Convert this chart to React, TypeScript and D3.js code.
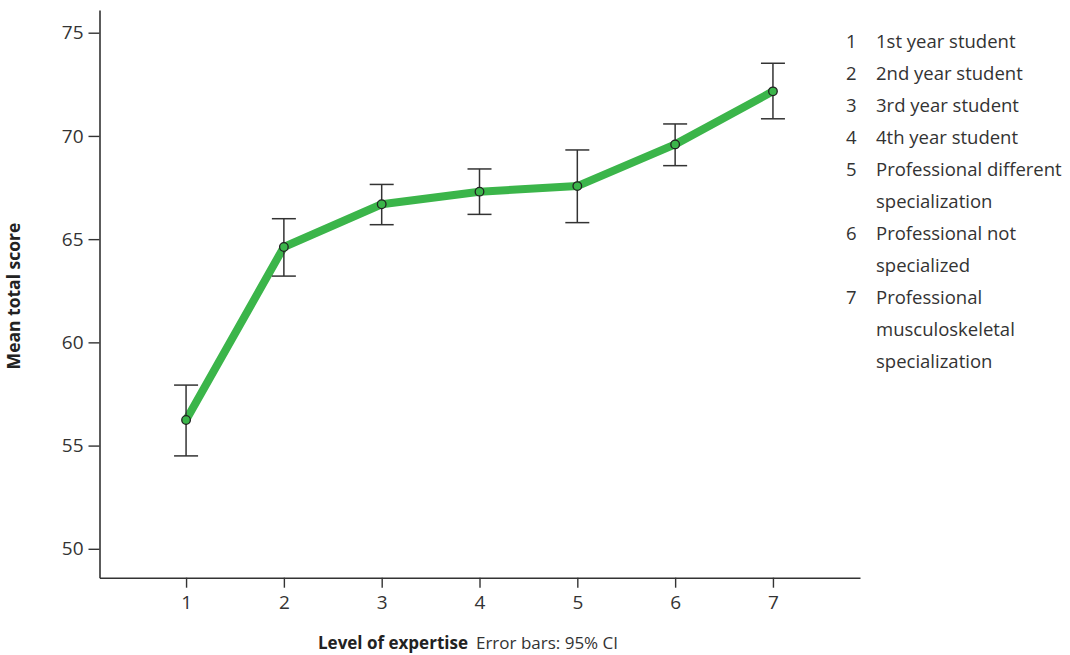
import React, { useRef, useEffect } from "react";
import * as d3 from "d3";

// level of expertise (x), mean total score with 95% CI
const levels = [1, 2, 3, 4, 5, 6, 7];
const means = [56.24, 64.62, 66.69, 67.3, 67.57, 69.59, 72.16];
const ciLow = [54.5, 63.21, 65.7, 66.2, 65.8, 68.56, 70.83];
const ciHigh = [57.93, 65.99, 67.65, 68.4, 69.32, 70.58, 73.52];

const yTicks = [50, 55, 60, 65, 70, 75];

const legendItems = [
  { key: "1", lines: ["1st year student"] },
  { key: "2", lines: ["2nd year student"] },
  { key: "3", lines: ["3rd year student"] },
  { key: "4", lines: ["4th year student"] },
  { key: "5", lines: ["Professional different", "specialization"] },
  { key: "6", lines: ["Professional not", "specialized"] },
  { key: "7", lines: ["Professional", "musculoskeletal", "specialization"] },
];

const W = 1070;
const H = 655;
const FONT = "'Open Sans', 'Noto Sans', sans-serif";
const TEXT = "#333";
const GREEN = "#3bb54a";

const App = () => {
  const svgRef = useRef<SVGSVGElement>(null);

  useEffect(() => {
    const svg = d3.select(svgRef.current);
    svg.selectAll("*").remove();

    const left = 99.5;
    const right = 860;
    const top = 10;
    const bottom = 577.7;

    const x = d3.scaleLinear().domain([0.115, 7.89]).range([left, right]);
    const y = d3.scaleLinear().domain([48.6, 76.1]).range([bottom, top]);

    const data = levels.map((l, i) => ({
      l,
      m: means[i],
      lo: ciLow[i],
      hi: ciHigh[i],
    }));

    // axes
    const yAxis = d3
      .axisLeft(y)
      .tickValues(yTicks)
      .tickSize(11)
      .tickPadding(5)
      .tickSizeOuter(0);
    const xAxis = d3
      .axisBottom(x)
      .tickValues(levels)
      .tickFormat(d3.format("d"))
      .tickSize(10)
      .tickPadding(8)
      .tickSizeOuter(0);

    const gy = svg.append("g").attr("transform", `translate(${left},0)`).call(yAxis);
    const gx = svg.append("g").attr("transform", `translate(0,${bottom})`).call(xAxis);

    [gx, gy].forEach((g) => {
      g.attr("font-size", 19).attr("font-family", FONT);
      g.select(".domain").attr("stroke", TEXT).attr("stroke-width", 1.6);
      g.selectAll(".tick line").attr("stroke", TEXT).attr("stroke-width", 1.4);
      g.selectAll(".tick text").attr("fill", TEXT);
    });

    // line
    const line = d3
      .line<any>()
      .x((d) => x(d.l))
      .y((d) => y(d.m));

    svg
      .append("path")
      .datum(data)
      .attr("d", line)
      .attr("fill", "none")
      .attr("stroke", GREEN)
      .attr("stroke-width", 8)
      .attr("stroke-linejoin", "round");

    // error bars
    const eb = svg.append("g").attr("stroke", "#333").attr("stroke-width", 1.5);
    const capHalf = 12;
    data.forEach((d) => {
      eb.append("line")
        .attr("x1", x(d.l))
        .attr("x2", x(d.l))
        .attr("y1", y(d.lo))
        .attr("y2", y(d.hi));
      eb.append("line")
        .attr("x1", x(d.l) - capHalf)
        .attr("x2", x(d.l) + capHalf)
        .attr("y1", y(d.hi))
        .attr("y2", y(d.hi));
      eb.append("line")
        .attr("x1", x(d.l) - capHalf)
        .attr("x2", x(d.l) + capHalf)
        .attr("y1", y(d.lo))
        .attr("y2", y(d.lo));
    });

    // points
    svg
      .append("g")
      .selectAll("circle")
      .data(data)
      .enter()
      .append("circle")
      .attr("cx", (d) => x(d.l))
      .attr("cy", (d) => y(d.m))
      .attr("r", 4.3)
      .attr("fill", GREEN)
      .attr("stroke", "#222")
      .attr("stroke-width", 1.3);

    // axis titles
    svg
      .append("text")
      .attr("transform", `translate(20,296) rotate(-90)`)
      .attr("text-anchor", "middle")
      .attr("fill", "#222")
      .style("font-family", FONT)
      .style("font-size", "17.5px")
      .style("font-weight", "bold")
      .text("Mean total score");

    const xt = svg
      .append("text")
      .attr("x", 318)
      .attr("y", 649)
      .attr("fill", "#222")
      .style("font-family", FONT)
      .style("font-size", "17px");
    xt.append("tspan").style("font-weight", "bold").text("Level of expertise");
    xt.append("tspan").attr("dx", 8).attr("fill", TEXT).text("Error bars: 95% CI");

    // legend
    const lg = svg
      .append("g")
      .attr("fill", TEXT)
      .style("font-family", FONT)
      .style("font-size", "18.5px");
    let row = 0;
    const rowH = 32;
    const firstY = 47.5;
    legendItems.forEach((item) => {
      lg.append("text")
        .attr("x", 846)
        .attr("y", firstY + row * rowH)
        .text(item.key);
      item.lines.forEach((t) => {
        lg.append("text")
          .attr("x", 876)
          .attr("y", firstY + row * rowH)
          .text(t);
        row += 1;
      });
    });
  }, []);

  return (
    <svg
      ref={svgRef}
      width={W}
      height={H}
      style={{ position: "absolute", left: 0, top: 0, background: "#fff" }}
    />
  );
};

export default App;
